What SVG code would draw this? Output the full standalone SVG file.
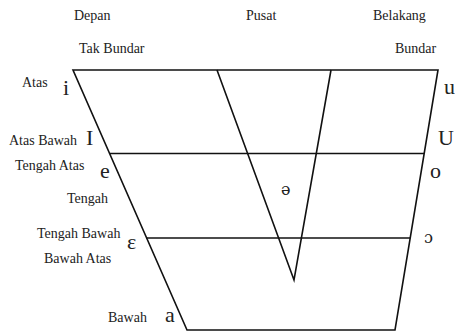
<svg xmlns="http://www.w3.org/2000/svg" width="455" height="331" viewBox="0 0 455 331">
<style>
.ln{stroke:#111;stroke-width:1.6;fill:none;stroke-linejoin:miter}
.lb{font-family:"Liberation Serif","DejaVu Serif",serif;font-size:14px;fill:#222}
.v{font-family:"Liberation Serif","DejaVu Serif",serif;font-size:22px;fill:#222}
.vs{font-family:"DejaVu Serif","Liberation Serif",serif;font-size:16px;fill:#222}
</style>
<rect width="455" height="331" fill="#fff"/>
<g id="chart">
<polygon class="ln" points="73,70 438,70 395,330 187,330"/>
<line class="ln" x1="110" y1="153.5" x2="424" y2="153.5"/>
<line class="ln" x1="146" y1="238" x2="410" y2="238"/>
<polyline class="ln" points="217,70 294,280 331,70"/>
</g>
<g id="headers">
<text class="lb" x="74" y="20">Depan</text>
<text class="lb" x="246" y="20">Pusat</text>
<text class="lb" x="373" y="20">Belakang</text>
<text class="lb" x="79" y="53">Tak Bundar</text>
<text class="lb" x="395" y="53">Bundar</text>
</g>
<g id="heights">
<text class="lb" x="22" y="87">Atas</text>
<text class="lb" x="9" y="145">Atas Bawah</text>
<text class="lb" x="15" y="170">Tengah Atas</text>
<text class="lb" x="67" y="203">Tengah</text>
<text class="lb" x="37" y="238">Tengah Bawah</text>
<text class="lb" x="44" y="263">Bawah Atas</text>
<text class="lb" x="108" y="322">Bawah</text>
</g>
<g id="vowels">
<text class="v" x="63" y="95">i</text>
<text class="v" x="444" y="94">u</text>
<text class="v" x="86" y="145">I</text>
<text class="v" x="438" y="145">U</text>
<text class="v" x="100" y="178">e</text>
<text class="v" x="430" y="178">o</text>
<text class="vs" x="281" y="195">ə</text>
<text class="v" x="127" y="249">ɛ</text>
<text class="vs" x="424" y="243">ɔ</text>
<text class="v" x="165" y="322">a</text>
</g>
</svg>
